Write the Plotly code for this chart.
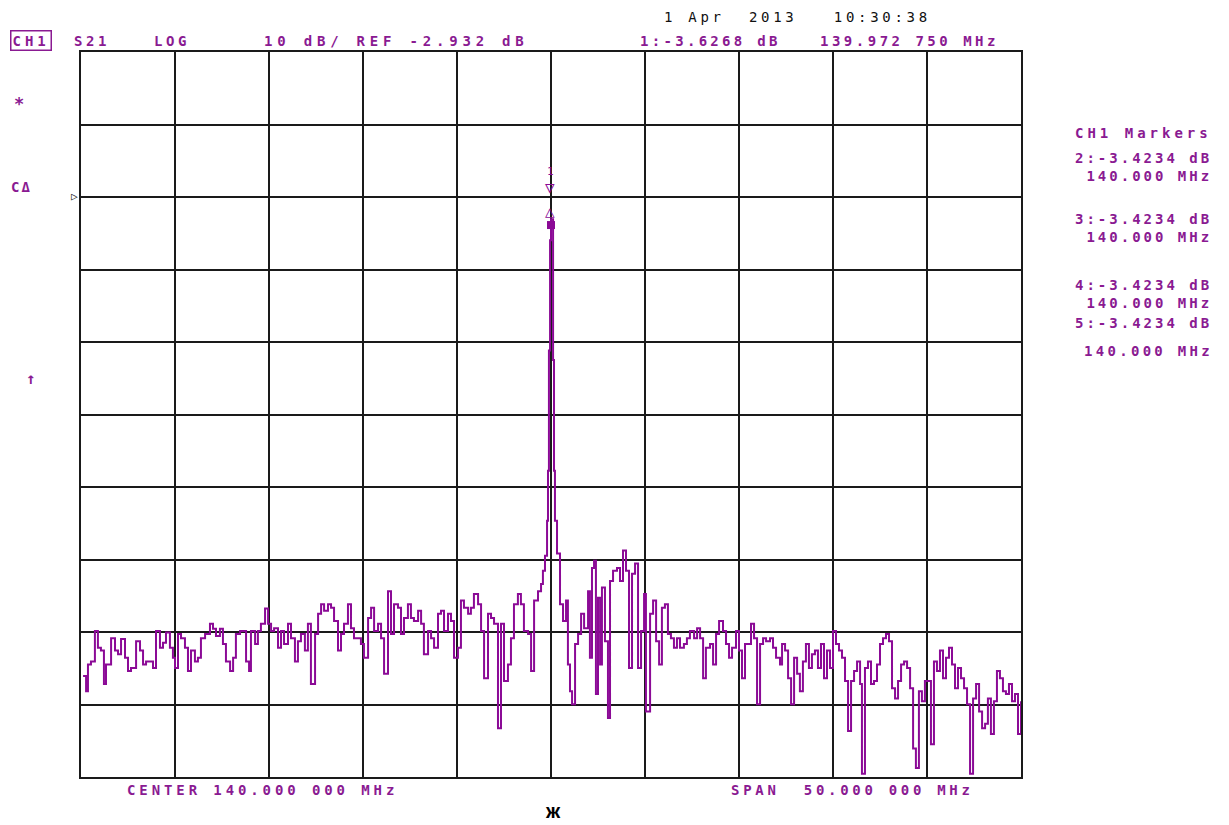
import plotly.graph_objects as go

# ---- data ----
freq_mhz = [
    115.11, 115.27, 115.37, 115.53, 115.74, 115.90, 116.06, 116.22, 116.33, 116.44,
    116.60, 116.81, 116.97, 117.13, 117.34, 117.50, 117.66, 117.93, 118.14, 118.30,
    118.46, 118.67, 118.83, 118.99, 119.20, 119.36, 119.52, 119.73, 119.89, 120.00,
    120.16, 120.32, 120.53, 120.69, 120.85, 121.06, 121.22, 121.38, 121.60, 121.86,
    122.02, 122.18, 122.39, 122.55, 122.71, 122.93, 123.09, 123.24, 123.46, 123.62,
    123.78, 123.94, 124.04, 124.26, 124.41, 124.57, 124.79, 124.95, 125.11,
    125.27, 125.48, 125.64, 125.80, 126.01, 126.17, 126.38, 126.54, 126.70, 126.91,
    127.07, 127.23, 127.45, 127.61, 127.77, 127.93, 128.14, 128.30, 128.46, 128.67,
    128.83, 128.99, 129.20, 129.36, 129.52, 129.73, 129.89, 130.05,
    130.27, 130.43, 130.59, 130.80, 130.96, 131.12, 131.33, 131.49, 131.65, 131.86,
    132.02, 132.18, 132.39, 132.55, 132.71, 132.93, 133.09, 133.24, 133.46, 133.62,
    133.78, 133.99, 134.15, 134.31, 134.52, 134.68, 134.84, 135.05,
    135.21, 135.37, 135.59, 135.74, 135.90, 136.12, 136.28, 136.44, 136.65, 136.81,
    136.97, 137.18, 137.34, 137.50, 137.71, 137.87, 138.03, 138.24, 138.40, 138.56,
    138.78, 138.94, 139.10, 139.31, 139.47, 139.57, 139.68, 139.79, 139.84, 139.89,
    139.95, 140.00, 140.11, 140.16, 140.21, 140.32,
    140.48, 140.64, 140.80, 140.90, 141.01, 141.12, 141.28, 141.44, 141.60, 141.76,
    141.97, 142.07, 142.18, 142.29, 142.39, 142.50, 142.61, 142.71, 142.87, 143.03,
    143.14, 143.30, 143.51, 143.67, 143.83, 143.99, 144.15, 144.31, 144.47, 144.63,
    144.79, 144.95, 145.05, 145.27, 145.43, 145.59, 145.75, 145.90, 146.06, 146.22,
    146.38, 146.54, 146.70, 146.86, 147.07, 147.23, 147.39, 147.61, 147.77, 147.93,
    148.09, 148.24, 148.46, 148.62, 148.78, 148.94, 149.15, 149.31, 149.47, 149.63,
    149.84, 150.00, 150.16, 150.32, 150.48, 150.64, 150.80, 150.96, 151.12, 151.28,
    151.44, 151.65, 151.81, 151.97, 152.18,
    152.29, 152.45, 152.61, 152.77, 152.93, 153.09, 153.24, 153.40, 153.56, 153.72,
    153.88, 154.04, 154.20, 154.36, 154.52, 154.68, 154.84, 155.00, 155.16, 155.32,
    155.48, 155.64, 155.80, 155.96, 156.12, 156.28, 156.44, 156.54, 156.70, 156.86,
    157.02, 157.18, 157.34, 157.50, 157.66, 157.82, 157.98, 158.14, 158.30, 158.46,
    158.62, 158.78, 158.94, 159.10, 159.26, 159.41, 159.57, 159.73, 159.89, 160.05,
    160.21, 160.37, 160.53, 160.69, 160.85, 161.01, 161.17, 161.33, 161.49, 161.65,
    161.81, 161.97, 162.13, 162.29, 162.45, 162.61, 162.77, 162.93, 163.09, 163.24,
    163.40, 163.56, 163.72, 163.88, 164.04, 164.20, 164.36, 164.52, 164.68, 164.84,
    165.00,
]

s21_db = [
    -69.0, -71.1, -67.4, -67.0, -62.8, -65.1, -65.5, -70.1, -67.4, -67.4,
    -63.8, -65.5, -66.0, -63.9, -66.5, -68.3, -67.9, -64.2, -65.5, -67.4,
    -67.0, -67.0, -67.9, -62.8, -65.1, -64.4, -63.0, -65.1, -66.5, -67.9,
    -63.2, -63.8, -65.1, -68.3, -65.5, -67.0, -66.5, -63.8, -63.2, -61.8,
    -62.5, -63.5, -62.5, -64.6, -67.0, -68.3, -66.5, -63.2, -62.8, -62.8,
    -67.0, -68.3, -62.8, -64.6, -62.8, -61.8, -59.7, -61.8, -62.8,
    -62.4, -65.1, -62.8, -64.6, -61.8, -63.8, -67.0, -64.2, -63.2, -65.5,
    -61.8, -70.1, -63.2, -60.4, -59.1, -60.0, -59.1, -59.6, -61.4, -65.5,
    -63.2, -61.8, -59.1, -62.4, -63.8, -63.8, -64.6, -66.5,
    -61.0, -59.6, -62.8, -61.8, -63.8, -68.7, -57.3, -63.2, -59.1, -59.6,
    -63.2, -61.0, -59.1, -61.0, -61.4, -60.0, -61.8, -66.0, -62.8, -63.8,
    -65.1, -60.4, -60.0, -62.8, -60.4, -61.4, -66.5, -65.1,
    -58.6, -59.6, -60.4, -59.6, -57.7, -59.1, -62.8, -69.3, -60.4, -61.0,
    -61.8, -76.2, -61.8, -69.7, -67.4, -63.8, -59.1, -57.7, -59.1, -62.8,
    -63.2, -68.3, -58.6, -57.3, -56.3, -54.5, -52.4, -47.6, -40.7, -24.1,
    -8.9, -6.0, -25.4, -40.7, -47.6, -52.1,
    -59.1, -61.4, -58.6, -67.4, -71.1, -72.9, -64.6, -63.2, -60.4, -62.4,
    -57.3, -66.5, -54.1, -53.1, -71.5, -58.2, -67.4, -56.8, -64.2, -74.8,
    -55.9, -54.5, -54.1, -55.9, -51.7, -54.5, -67.9, -54.9, -53.5, -67.9,
    -62.8, -57.7, -73.9, -60.4, -58.6, -64.2, -67.4, -59.6, -59.1, -63.2,
    -63.8, -65.1, -63.8, -65.1, -64.6, -63.8, -62.8, -63.8, -62.4, -63.8,
    -69.3, -65.1, -64.6, -67.4, -63.2, -61.4, -62.8, -64.6, -66.5, -65.1,
    -62.8, -65.5, -69.3, -64.6, -64.6, -61.8, -63.8, -72.9, -64.6, -63.8,
    -64.2, -63.8, -65.1, -66.5, -67.4,
    -64.6, -65.5, -69.3, -72.9, -66.5, -68.7, -71.1, -67.0, -64.6, -67.9,
    -66.0, -65.5, -67.9, -64.6, -69.3, -65.5, -67.9, -62.8, -64.6, -65.5,
    -66.5, -69.7, -76.6, -69.7, -68.3, -67.0, -70.1, -82.5, -67.9, -67.0,
    -70.1, -69.7, -67.4, -64.6, -63.8, -63.2, -64.2, -70.7, -72.1, -69.7,
    -67.4, -67.0, -67.9, -70.7, -79.0, -81.7, -71.1, -72.5, -69.7, -69.7,
    -78.4, -67.0, -68.3, -65.5, -69.3, -66.5, -65.1, -67.4, -70.7, -67.9,
    -69.3, -70.7, -72.9, -82.5, -72.1, -70.1, -73.9, -76.2, -75.6, -72.1,
    -77.0, -72.5, -68.3, -69.3, -71.1, -71.5, -70.1, -72.5, -71.5, -77.0,
    -72.5,
]

center_mhz = 140.0
span_mhz = 50.0
ref_db = -2.932
scale_db = 10.0

marker_freqs = [139.97275, 140.0, 140.0, 140.0, 140.0]
marker_vals = [-3.6268, -3.4234, -3.4234, -3.4234, -3.4234]

# ---- layout helpers ----
# the page body has an 8px margin, so the figure is made 8px smaller and
# every page-pixel position below is shifted by that offset.
OFF = 8
W, H = 1229 - OFF, 825 - OFF
L, R, T, B = 81, 1021, 52, 777      # plot area in page pixels
PURPLE = "#8a1a92"
TRACE = "#8b0a96"
MONO = "DejaVu Sans Mono"


def px(x):
    return (x - L) / (R - L)


def py(y):
    return (B - y) / (B - T)


def sp(s, ls=4):
    return f'<span style="letter-spacing:{ls}px">{s}</span>'


x0 = center_mhz - span_mhz / 2
x1 = center_mhz + span_mhz / 2
y_top = ref_db + 2 * scale_db
y_bot = ref_db - 8 * scale_db

fig = go.Figure()
fig.add_trace(go.Scatter(
    x=freq_mhz, y=s21_db, mode="lines",
    line=dict(color=TRACE, width=2.0, shape="hv"),
    hoverinfo="skip", showlegend=False,
))

annotations = []


def txt(s, x, y, color=PURPLE, size=14, xanchor="left", ls=3.6, family=MONO,
        weight="bold", **kw):
    annotations.append(dict(
        text=sp(s, ls) if ls else s, x=px(x), y=py(y), xref="paper", yref="paper",
        xanchor=xanchor, yanchor="middle", showarrow=False,
        font=dict(family=family, size=size, color=color, weight=weight), **kw,
    ))


# header
txt("1 Apr  2013   10:30:38", 662, 17, color="#111111", ls=3.7, weight="normal")
txt("CH1", 10, 41, ls=4, bordercolor=PURPLE, borderwidth=1.5, borderpad=1)
txt("S21", 72, 41)
txt("LOG", 152, 41)
txt("10 dB/ REF -2.932 dB", 262, 41, ls=4.8)
txt(f"1:{marker_vals[0]:.4f} dB", 638, 41, ls=3.3)
txt("139.972 750 MHz", 818, 41, ls=3.5)

# left side
txt("*", 12, 104, size=17, ls=0)
txt("CΔ", 9, 187, ls=2)
txt("↑", 24, 378, size=16, ls=0)
annotations.append(dict(text="▷", x=px(80), y=py(197), xref="paper", yref="paper",
                        xanchor="right", yanchor="middle", showarrow=False,
                        font=dict(family=MONO, size=11, color="#222222")))

# right markers panel
txt("CH1 Markers", 1073, 133, ls=4.0)
pair_centers = [167, 228, 294]
for i, yc in enumerate(pair_centers):
    txt(f"{i + 2}:{marker_vals[i + 1]:.4f} dB<br> {marker_freqs[i + 1]:.3f} MHz",
        1073, yc, ls=3.0)
txt(f"5:{marker_vals[4]:.4f} dB", 1073, 323, ls=3.0)
txt(f"{marker_freqs[4]:.3f} MHz", 1082, 351, ls=3.3)

# bottom
txt(f"CENTER {center_mhz:.3f} 000 MHz", 125, 790, ls=3.9)
txt(f"SPAN  {span_mhz:.3f} 000 MHz", 729, 790, ls=3.7)
annotations.append(dict(text="<b>ж</b>", x=px(553), y=py(811), xref="paper", yref="paper",
                        xanchor="center", yanchor="middle", showarrow=False,
                        font=dict(family="Liberation Sans", size=20, color="#000000")))

# marker symbols on the peak
for s, ys, sz in [("▽", 15, 16), ("△", -9, 16), ("1", 31, 11)]:
    annotations.append(dict(text=s, x=marker_freqs[0], y=marker_vals[0], xref="x", yref="y",
                            xanchor="center", yanchor="middle", yshift=ys, showarrow=False,
                            font=dict(family=MONO, size=sz, color=TRACE)))
fig.add_trace(go.Scatter(
    x=[marker_freqs[1]], y=[s21_db[freq_mhz.index(140.00)] - 0.8], mode="markers",
    marker=dict(symbol="square", size=8, color=TRACE), hoverinfo="skip", showlegend=False,
))

fig.update_layout(
    width=W, height=H,
    margin=dict(l=L - OFF, r=W - (R - OFF), t=T - OFF, b=H - (B - OFF), pad=0),
    paper_bgcolor="white", plot_bgcolor="white",
    annotations=annotations,
    showlegend=False,
)
fig.update_xaxes(range=[x0, x1], tick0=x0, dtick=span_mhz / 10, showticklabels=False,
                 ticks="", showgrid=True, gridcolor="#1a1a1a", gridwidth=1.6,
                 showline=True, linecolor="#1a1a1a", linewidth=2, mirror=True, zeroline=False)
fig.update_yaxes(range=[y_bot, y_top], tick0=ref_db, dtick=scale_db, showticklabels=False,
                 ticks="", showgrid=True, gridcolor="#1a1a1a", gridwidth=1.6,
                 showline=True, linecolor="#1a1a1a", linewidth=2, mirror=True, zeroline=False)

fig.write_html("out.html")
